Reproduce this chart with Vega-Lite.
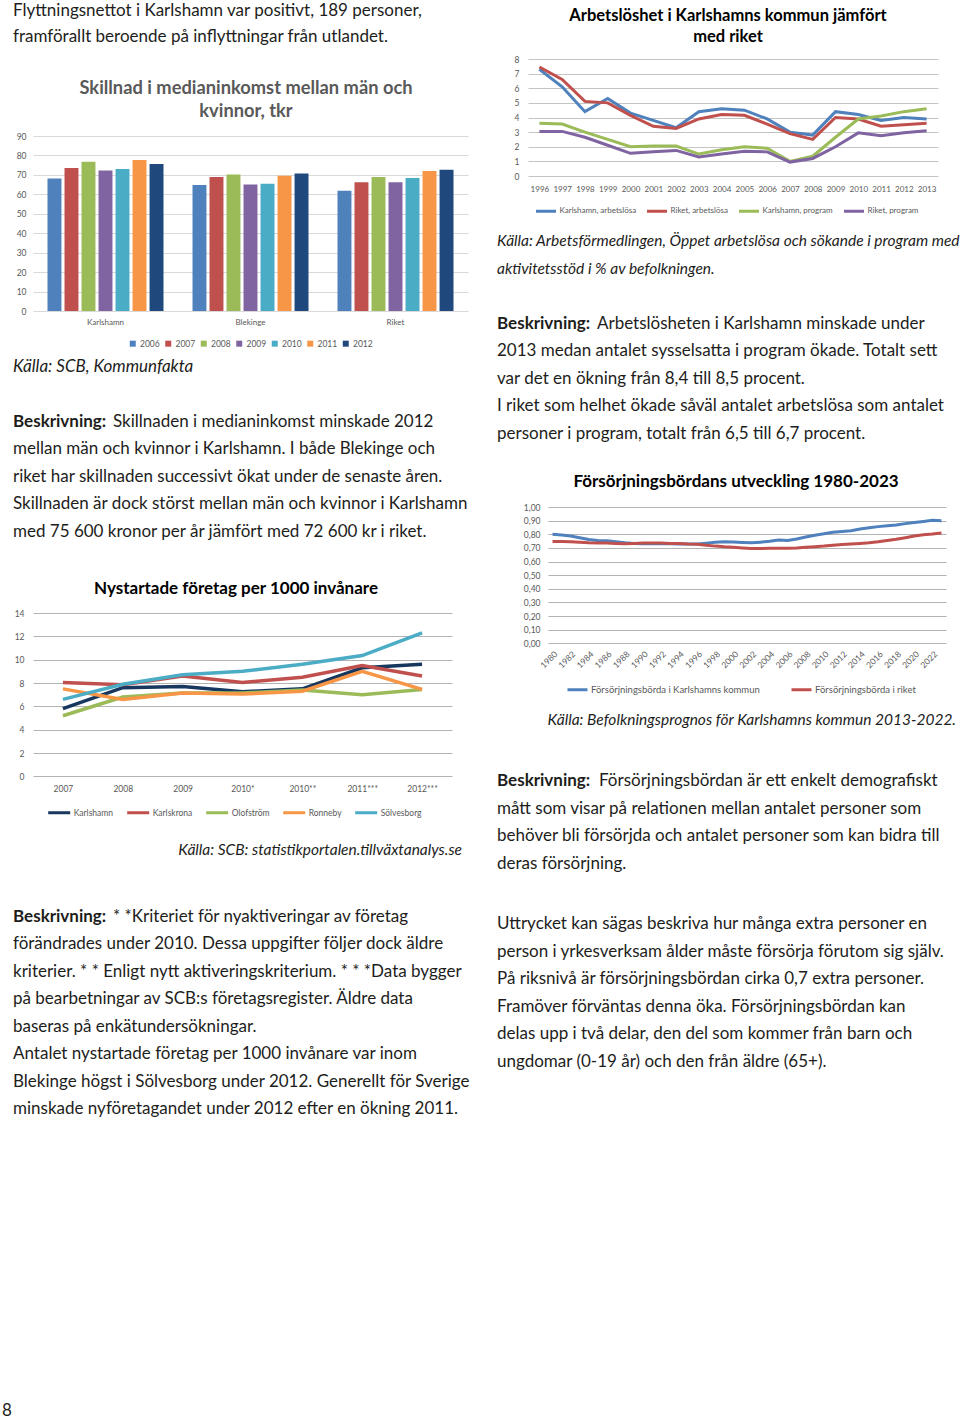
{
  "$schema": "https://vega.github.io/schema/vega-lite/v6.json",
  "background": "white",
  "padding": {"left": 2, "top": 0, "right": 0, "bottom": 0},
  "autosize": {"type": "pad"},
  "bounds": "flush",
  "spacing": 495,
  "resolve": {"scale": {"color": "independent"}, "legend": {"color": "independent"}},
  "config": {
    "view": {"stroke": null},
    "font": "Lato",
    "text": {"font": "Lato", "fontSize": 17, "baseline": "middle", "color": "#1d1d1b"},
    "axis": {"labelFont": "Lato", "labelFontSize": 8.5, "labelColor": "#595959", "domain": false, "ticks": false, "gridColor": "#c4c4c4", "gridWidth": 1},
    "legend": {"labelFont": "Lato", "labelFontSize": 8.5, "labelColor": "#595959", "orient": "none", "direction": "horizontal", "padding": 0, "title": null, "labelLimit": 400},
    "title": {"font": "Lato", "fontWeight": "bold", "anchor": "middle", "frame": "group"}
  },
  "hconcat": [
    {
      "bounds": "flush",
      "spacing": 0,
      "resolve": {"scale": {"color": "independent"}, "legend": {"color": "independent"}},
      "vconcat": [
        {
          "width": 435, "height": 135.7,
          "data": {"values": [
            {"line": 0, "text": "Flyttningsnettot i Karlshamn var positivt, 189 personer,"},
            {"line": 1, "text": "framförallt beroende på inflyttningar från utlandet."}
          ]},
          "mark": {"type": "text", "align": "left", "dx": -20},
          "encoding": {
            "x": {"value": 0},
            "y": {"field": "line", "type": "quantitative", "scale": {"domain": [-0.44, 4.84], "reverse": true, "zero": false, "nice": false}, "axis": null},
            "text": {"field": "text"}
          }
        },
        {
          "width": 435, "height": 175,
          "title": {"text": ["Skillnad i medianinkomst mellan män och", "kvinnor, tkr"], "fontSize": 18.3, "color": "#595959", "lineHeight": 22.7, "offset": 11, "dx": -4.5},
          "data": {"values": [
            {"region": "Karlshamn", "year": "2006", "value": 68.1},
            {"region": "Karlshamn", "year": "2007", "value": 73.6},
            {"region": "Karlshamn", "year": "2008", "value": 76.7},
            {"region": "Karlshamn", "year": "2009", "value": 72.2},
            {"region": "Karlshamn", "year": "2010", "value": 73.0},
            {"region": "Karlshamn", "year": "2011", "value": 77.7},
            {"region": "Karlshamn", "year": "2012", "value": 75.6},
            {"region": "Blekinge", "year": "2006", "value": 64.8},
            {"region": "Blekinge", "year": "2007", "value": 68.9},
            {"region": "Blekinge", "year": "2008", "value": 70.2},
            {"region": "Blekinge", "year": "2009", "value": 65.0},
            {"region": "Blekinge", "year": "2010", "value": 65.5},
            {"region": "Blekinge", "year": "2011", "value": 69.6},
            {"region": "Blekinge", "year": "2012", "value": 70.7},
            {"region": "Riket", "year": "2006", "value": 61.9},
            {"region": "Riket", "year": "2007", "value": 66.2},
            {"region": "Riket", "year": "2008", "value": 68.9},
            {"region": "Riket", "year": "2009", "value": 66.2},
            {"region": "Riket", "year": "2010", "value": 68.4},
            {"region": "Riket", "year": "2011", "value": 72.0},
            {"region": "Riket", "year": "2012", "value": 72.6}
          ]},
          "mark": {"type": "bar"},
          "encoding": {
            "x": {"field": "region", "type": "nominal", "sort": ["Karlshamn", "Blekinge", "Riket"], "scale": {"paddingInner": 0.2, "paddingOuter": 0.1}, "axis": {"title": null, "labelAngle": 0, "labelPadding": 7.5, "labelFontSize": 8}},
            "xOffset": {"field": "year", "type": "nominal", "scale": {"paddingInner": 0.18, "paddingOuter": 0}},
            "y": {"field": "value", "type": "quantitative", "scale": {"domain": [0, 90], "nice": false}, "axis": {"title": null, "values": [0, 10, 20, 30, 40, 50, 60, 70, 80, 90], "labelPadding": 7, "gridColor": "#d9d9d9"}},
            "color": {"field": "year", "type": "nominal", "scale": {"domain": ["2006", "2007", "2008", "2009", "2010", "2011", "2012"], "range": ["#4F81BD", "#C0504D", "#9BBB59", "#8064A2", "#4BACC6", "#F79646", "#1F497D"]}, "legend": {"legendX": 95.5, "legendY": 203.3, "symbolType": "square", "symbolSize": 36, "columnPadding": 3.5, "labelOffset": 3}}
          }
        },
        {
          "width": 435, "height": 301.6,
          "encoding": {"x": {"value": 0}, "text": {"field": "text"}},
          "layer": [
            {
              "data": {"values": [{"line": 0, "text": "Källa: SCB, Kommunfakta"}]},
              "mark": {"type": "text", "align": "left", "dx": -20, "fontStyle": "italic"},
              "encoding": {"y": {"field": "line", "type": "quantitative", "scale": {"domain": [-2.033, 8.934], "reverse": true, "zero": false, "nice": false}, "axis": null}}
            },
            {
              "data": {"values": [{"line": 2, "text": "Beskrivning:"}]},
              "mark": {"type": "text", "align": "left", "dx": -20, "fontWeight": "bold"},
              "encoding": {"y": {"field": "line", "type": "quantitative", "scale": {"domain": [-2.033, 8.934], "reverse": true, "zero": false, "nice": false}, "axis": null}}
            },
            {
              "data": {"values": [{"line": 2, "text": "Skillnaden i medianinkomst minskade 2012"}]},
              "mark": {"type": "text", "align": "left", "dx": 80},
              "encoding": {"y": {"field": "line", "type": "quantitative", "scale": {"domain": [-2.033, 8.934], "reverse": true, "zero": false, "nice": false}, "axis": null}}
            },
            {
              "data": {"values": [
                {"line": 3, "text": "mellan män och kvinnor i Karlshamn. I både Blekinge och"},
                {"line": 4, "text": "riket har skillnaden successivt ökat under de senaste åren."},
                {"line": 5, "text": "Skillnaden är dock störst mellan män och kvinnor i Karlshamn"},
                {"line": 6, "text": "med 75 600 kronor per år jämfört med 72 600 kr i riket."}
              ]},
              "mark": {"type": "text", "align": "left", "dx": -20},
              "encoding": {"y": {"field": "line", "type": "quantitative", "scale": {"domain": [-2.033, 8.934], "reverse": true, "zero": false, "nice": false}, "axis": null}}
            }
          ],
          "resolve": {"scale": {"y": "independent"}}
        },
        {
          "width": 419, "height": 163.4,
          "title": {"text": "Nystartade företag per 1000 invånare", "fontSize": 17, "color": "#000000", "offset": 11, "dx": -6.5},
          "data": {"values": [
            {"kommun": "Karlshamn", "period": "2007", "value": 5.8},
            {"kommun": "Karlshamn", "period": "2008", "value": 7.6},
            {"kommun": "Karlshamn", "period": "2009", "value": 7.7},
            {"kommun": "Karlshamn", "period": "2010*", "value": 7.25},
            {"kommun": "Karlshamn", "period": "2010**", "value": 7.5},
            {"kommun": "Karlshamn", "period": "2011***", "value": 9.3},
            {"kommun": "Karlshamn", "period": "2012***", "value": 9.6},
            {"kommun": "Karlskrona", "period": "2007", "value": 8.05},
            {"kommun": "Karlskrona", "period": "2008", "value": 7.85},
            {"kommun": "Karlskrona", "period": "2009", "value": 8.6},
            {"kommun": "Karlskrona", "period": "2010*", "value": 8.05},
            {"kommun": "Karlskrona", "period": "2010**", "value": 8.5},
            {"kommun": "Karlskrona", "period": "2011***", "value": 9.5},
            {"kommun": "Karlskrona", "period": "2012***", "value": 8.6},
            {"kommun": "Olofström", "period": "2007", "value": 5.2},
            {"kommun": "Olofström", "period": "2008", "value": 6.8},
            {"kommun": "Olofström", "period": "2009", "value": 7.15},
            {"kommun": "Olofström", "period": "2010*", "value": 7.15},
            {"kommun": "Olofström", "period": "2010**", "value": 7.4},
            {"kommun": "Olofström", "period": "2011***", "value": 7.0},
            {"kommun": "Olofström", "period": "2012***", "value": 7.45},
            {"kommun": "Ronneby", "period": "2007", "value": 7.5},
            {"kommun": "Ronneby", "period": "2008", "value": 6.6},
            {"kommun": "Ronneby", "period": "2009", "value": 7.15},
            {"kommun": "Ronneby", "period": "2010*", "value": 7.05},
            {"kommun": "Ronneby", "period": "2010**", "value": 7.3},
            {"kommun": "Ronneby", "period": "2011***", "value": 9.0},
            {"kommun": "Ronneby", "period": "2012***", "value": 7.45},
            {"kommun": "Sölvesborg", "period": "2007", "value": 6.6},
            {"kommun": "Sölvesborg", "period": "2008", "value": 7.9},
            {"kommun": "Sölvesborg", "period": "2009", "value": 8.7},
            {"kommun": "Sölvesborg", "period": "2010*", "value": 9.0},
            {"kommun": "Sölvesborg", "period": "2010**", "value": 9.6},
            {"kommun": "Sölvesborg", "period": "2011***", "value": 10.35},
            {"kommun": "Sölvesborg", "period": "2012***", "value": 12.3}
          ]},
          "mark": {"type": "line", "strokeWidth": 3.5},
          "encoding": {
            "x": {"field": "period", "type": "ordinal", "sort": ["2007", "2008", "2009", "2010*", "2010**", "2011***", "2012***"], "scale": {"type": "point", "padding": 0.5}, "axis": {"title": null, "labelAngle": 0, "labelPadding": 8, "labelOverlap": false}},
            "y": {"field": "value", "type": "quantitative", "scale": {"domain": [0, 14], "nice": false}, "axis": {"title": null, "values": [0, 2, 4, 6, 8, 10, 12, 14], "labelPadding": 9, "gridColor": "#b3b3b3"}},
            "color": {"field": "kommun", "type": "nominal", "scale": {"domain": ["Karlshamn", "Karlskrona", "Olofström", "Ronneby", "Sölvesborg"], "range": ["#17375E", "#C0504D", "#9BBB59", "#F79646", "#4BACC6"]}, "legend": {"legendX": 13.7, "legendY": 187, "symbolType": "stroke", "symbolSize": 484, "symbolStrokeWidth": 3, "columnPadding": 7, "labelOffset": 2}}
          }
        },
        {
          "width": 429, "height": 640,
          "encoding": {"x": {"value": 0}, "text": {"field": "text"}},
          "layer": [
            {
              "data": {"values": [{"line": 0, "text": "Källa: SCB: statistikportalen.tillväxtanalys.se"}]},
              "mark": {"type": "text", "align": "right", "fontStyle": "italic", "fontSize": 15.5},
              "encoding": {"x": {"value": "width"}, "y": {"field": "line", "type": "quantitative", "scale": {"domain": [-2.662, 20.611], "reverse": true, "zero": false, "nice": false}, "axis": null}}
            },
            {
              "data": {"values": [{"line": 0, "text": "Beskrivning:"}]},
              "mark": {"type": "text", "align": "left", "dx": -20, "fontWeight": "bold"},
              "encoding": {"y": {"field": "line", "type": "quantitative", "scale": {"domain": [-5.087, 18.186], "reverse": true, "zero": false, "nice": false}, "axis": null}}
            },
            {
              "data": {"values": [{"line": 0, "text": "* *Kriteriet för nyaktiveringar av företag"}]},
              "mark": {"type": "text", "align": "left", "dx": 80},
              "encoding": {"y": {"field": "line", "type": "quantitative", "scale": {"domain": [-5.087, 18.186], "reverse": true, "zero": false, "nice": false}, "axis": null}}
            },
            {
              "data": {"values": [
                {"line": 1, "text": "förändrades under 2010. Dessa uppgifter följer dock äldre"},
                {"line": 2, "text": "kriterier. * * Enligt nytt aktiveringskriterium. * * *Data bygger"},
                {"line": 3, "text": "på bearbetningar av SCB:s företagsregister. Äldre data"},
                {"line": 4, "text": "baseras på enkätundersökningar."},
                {"line": 5, "text": "Antalet nystartade företag per 1000 invånare var inom"},
                {"line": 6, "text": "Blekinge högst i Sölvesborg under 2012. Generellt för Sverige"},
                {"line": 7, "text": "minskade nyföretagandet under 2012 efter en ökning 2011."}
              ]},
              "mark": {"type": "text", "align": "left", "dx": -20},
              "encoding": {"y": {"field": "line", "type": "quantitative", "scale": {"domain": [-5.087, 18.186], "reverse": true, "zero": false, "nice": false}, "axis": null}}
            },
            {
              "data": {"values": [{"line": 0, "text": "8"}]},
              "mark": {"type": "text", "align": "left", "dx": -31},
              "encoding": {"y": {"field": "line", "type": "quantitative", "scale": {"domain": [-23.065, 0.208], "reverse": true, "zero": false, "nice": false}, "axis": null}}
            }
          ],
          "resolve": {"scale": {"y": "independent"}}
        }
      ]
    },
    {
      "bounds": "flush",
      "spacing": 0,
      "resolve": {"scale": {"color": "independent"}, "legend": {"color": "independent"}},
      "vconcat": [
        {
          "width": 410, "height": 58.7,
          "data": {"values": [
            {"line": 0, "text": "Arbetslöshet i Karlshamns kommun jämfört"},
            {"line": 1, "text": "med riket"}
          ]},
          "mark": {"type": "text", "align": "center", "dx": -5, "fontWeight": "bold", "fontSize": 16.5, "color": "#000000"},
          "encoding": {
            "y": {"field": "line", "type": "quantitative", "scale": {"domain": [-0.771, 2.024], "reverse": true, "zero": false, "nice": false}, "axis": null},
            "text": {"field": "text"}
          }
        },
        {
          "width": 410, "height": 117,
          "data": {"values": [
            {"year": 1996, "serie": "Karlshamn, arbetslösa", "value": 7.3},
            {"year": 1997, "serie": "Karlshamn, arbetslösa", "value": 6.1},
            {"year": 1998, "serie": "Karlshamn, arbetslösa", "value": 4.4},
            {"year": 1999, "serie": "Karlshamn, arbetslösa", "value": 5.3},
            {"year": 2000, "serie": "Karlshamn, arbetslösa", "value": 4.3},
            {"year": 2001, "serie": "Karlshamn, arbetslösa", "value": 3.8},
            {"year": 2002, "serie": "Karlshamn, arbetslösa", "value": 3.3},
            {"year": 2003, "serie": "Karlshamn, arbetslösa", "value": 4.4},
            {"year": 2004, "serie": "Karlshamn, arbetslösa", "value": 4.6},
            {"year": 2005, "serie": "Karlshamn, arbetslösa", "value": 4.5},
            {"year": 2006, "serie": "Karlshamn, arbetslösa", "value": 3.9},
            {"year": 2007, "serie": "Karlshamn, arbetslösa", "value": 3.0},
            {"year": 2008, "serie": "Karlshamn, arbetslösa", "value": 2.8},
            {"year": 2009, "serie": "Karlshamn, arbetslösa", "value": 4.4},
            {"year": 2010, "serie": "Karlshamn, arbetslösa", "value": 4.2},
            {"year": 2011, "serie": "Karlshamn, arbetslösa", "value": 3.8},
            {"year": 2012, "serie": "Karlshamn, arbetslösa", "value": 4.0},
            {"year": 2013, "serie": "Karlshamn, arbetslösa", "value": 3.9},
            {"year": 1996, "serie": "Riket, arbetslösa", "value": 7.45},
            {"year": 1997, "serie": "Riket, arbetslösa", "value": 6.6},
            {"year": 1998, "serie": "Riket, arbetslösa", "value": 5.1},
            {"year": 1999, "serie": "Riket, arbetslösa", "value": 5.0},
            {"year": 2000, "serie": "Riket, arbetslösa", "value": 4.15},
            {"year": 2001, "serie": "Riket, arbetslösa", "value": 3.4},
            {"year": 2002, "serie": "Riket, arbetslösa", "value": 3.25},
            {"year": 2003, "serie": "Riket, arbetslösa", "value": 3.9},
            {"year": 2004, "serie": "Riket, arbetslösa", "value": 4.2},
            {"year": 2005, "serie": "Riket, arbetslösa", "value": 4.15},
            {"year": 2006, "serie": "Riket, arbetslösa", "value": 3.55},
            {"year": 2007, "serie": "Riket, arbetslösa", "value": 2.9},
            {"year": 2008, "serie": "Riket, arbetslösa", "value": 2.5},
            {"year": 2009, "serie": "Riket, arbetslösa", "value": 4.0},
            {"year": 2010, "serie": "Riket, arbetslösa", "value": 3.9},
            {"year": 2011, "serie": "Riket, arbetslösa", "value": 3.4},
            {"year": 2012, "serie": "Riket, arbetslösa", "value": 3.5},
            {"year": 2013, "serie": "Riket, arbetslösa", "value": 3.6},
            {"year": 1996, "serie": "Karlshamn, program", "value": 3.6},
            {"year": 1997, "serie": "Karlshamn, program", "value": 3.55},
            {"year": 1998, "serie": "Karlshamn, program", "value": 3.0},
            {"year": 1999, "serie": "Karlshamn, program", "value": 2.5},
            {"year": 2000, "serie": "Karlshamn, program", "value": 2.0},
            {"year": 2001, "serie": "Karlshamn, program", "value": 2.05},
            {"year": 2002, "serie": "Karlshamn, program", "value": 2.05},
            {"year": 2003, "serie": "Karlshamn, program", "value": 1.5},
            {"year": 2004, "serie": "Karlshamn, program", "value": 1.8},
            {"year": 2005, "serie": "Karlshamn, program", "value": 2.0},
            {"year": 2006, "serie": "Karlshamn, program", "value": 1.9},
            {"year": 2007, "serie": "Karlshamn, program", "value": 1.0},
            {"year": 2008, "serie": "Karlshamn, program", "value": 1.35},
            {"year": 2009, "serie": "Karlshamn, program", "value": 2.65},
            {"year": 2010, "serie": "Karlshamn, program", "value": 3.9},
            {"year": 2011, "serie": "Karlshamn, program", "value": 4.1},
            {"year": 2012, "serie": "Karlshamn, program", "value": 4.4},
            {"year": 2013, "serie": "Karlshamn, program", "value": 4.6},
            {"year": 1996, "serie": "Riket, program", "value": 3.05},
            {"year": 1997, "serie": "Riket, program", "value": 3.05},
            {"year": 1998, "serie": "Riket, program", "value": 2.65},
            {"year": 1999, "serie": "Riket, program", "value": 2.1},
            {"year": 2000, "serie": "Riket, program", "value": 1.55},
            {"year": 2001, "serie": "Riket, program", "value": 1.65},
            {"year": 2002, "serie": "Riket, program", "value": 1.75},
            {"year": 2003, "serie": "Riket, program", "value": 1.3},
            {"year": 2004, "serie": "Riket, program", "value": 1.5},
            {"year": 2005, "serie": "Riket, program", "value": 1.7},
            {"year": 2006, "serie": "Riket, program", "value": 1.65},
            {"year": 2007, "serie": "Riket, program", "value": 0.95},
            {"year": 2008, "serie": "Riket, program", "value": 1.2},
            {"year": 2009, "serie": "Riket, program", "value": 2.0},
            {"year": 2010, "serie": "Riket, program", "value": 2.95},
            {"year": 2011, "serie": "Riket, program", "value": 2.75},
            {"year": 2012, "serie": "Riket, program", "value": 2.95},
            {"year": 2013, "serie": "Riket, program", "value": 3.1}
          ]},
          "mark": {"type": "line", "strokeWidth": 3},
          "encoding": {
            "x": {"field": "year", "type": "ordinal", "scale": {"type": "point", "padding": 0.5}, "axis": {"title": null, "labelAngle": 0, "labelPadding": 9, "labelOverlap": false, "labelFontSize": 8}},
            "y": {"field": "value", "type": "quantitative", "scale": {"domain": [0, 8], "nice": false}, "axis": {"title": null, "values": [0, 1, 2, 3, 4, 5, 6, 7, 8], "labelPadding": 9}},
            "color": {"field": "serie", "type": "nominal", "scale": {"domain": ["Karlshamn, arbetslösa", "Riket, arbetslösa", "Karlshamn, program", "Riket, program"], "range": ["#4F81BD", "#C0504D", "#9BBB59", "#8064A2"]}, "legend": {"legendX": 6.5, "legendY": 140.5, "symbolType": "stroke", "symbolSize": 400, "symbolStrokeWidth": 3, "columnPadding": 4, "labelOffset": 2, "labelFontSize": 8}}
          }
        },
        {
          "width": 410, "height": 330.3,
          "encoding": {"x": {"value": 0}, "text": {"field": "text"}},
          "layer": [
            {
              "data": {"values": [
                {"line": 0, "text": "Källa: Arbetsförmedlingen, Öppet arbetslösa och sökande i program med"},
                {"line": 1, "text": "aktivitetsstöd i % av befolkningen."}
              ]},
              "mark": {"type": "text", "align": "left", "dx": -31, "fontStyle": "italic", "fontSize": 15.5},
              "encoding": {"y": {"field": "line", "type": "quantitative", "scale": {"domain": [-2.375, 9.636], "reverse": true, "zero": false, "nice": false}, "axis": null}}
            },
            {
              "data": {"values": [{"line": 0, "text": "Beskrivning:"}]},
              "mark": {"type": "text", "align": "left", "dx": -31, "fontWeight": "bold"},
              "encoding": {"y": {"field": "line", "type": "quantitative", "scale": {"domain": [-5.367, 6.644], "reverse": true, "zero": false, "nice": false}, "axis": null}}
            },
            {
              "data": {"values": [{"line": 0, "text": "Arbetslösheten i Karlshamn minskade under"}]},
              "mark": {"type": "text", "align": "left", "dx": 69},
              "encoding": {"y": {"field": "line", "type": "quantitative", "scale": {"domain": [-5.367, 6.644], "reverse": true, "zero": false, "nice": false}, "axis": null}}
            },
            {
              "data": {"values": [
                {"line": 1, "text": "2013 medan antalet sysselsatta i program ökade. Totalt sett"},
                {"line": 2, "text": "var det en ökning från 8,4 till 8,5 procent."},
                {"line": 3, "text": "I riket som helhet ökade såväl antalet arbetslösa som antalet"},
                {"line": 4, "text": "personer i program, totalt från 6,5 till 6,7 procent."}
              ]},
              "mark": {"type": "text", "align": "left", "dx": -31},
              "encoding": {"y": {"field": "line", "type": "quantitative", "scale": {"domain": [-5.367, 6.644], "reverse": true, "zero": false, "nice": false}, "axis": null}}
            }
          ],
          "resolve": {"scale": {"y": "independent"}}
        },
        {
          "bounds": "flush",
          "spacing": 19,
          "resolve": {"scale": {"color": "independent"}, "legend": {"color": "independent"}},
          "hconcat": [
            {
              "width": 1, "height": 1,
              "data": {"values": []},
              "mark": {"type": "text"},
              "encoding": {}
            },
            {
              "width": 398, "height": 136.3,
              "title": {"text": "Försörjningsbördans utveckling 1980-2023", "fontSize": 17, "color": "#000000", "offset": 12, "dx": -11},
              "data": {"values": [
                {"year": 1980, "serie": "Försörjningsbörda i Karlshamns kommun", "value": 0.800},
                {"year": 1981, "serie": "Försörjningsbörda i Karlshamns kommun", "value": 0.795},
                {"year": 1982, "serie": "Försörjningsbörda i Karlshamns kommun", "value": 0.787},
                {"year": 1983, "serie": "Försörjningsbörda i Karlshamns kommun", "value": 0.775},
                {"year": 1984, "serie": "Försörjningsbörda i Karlshamns kommun", "value": 0.762},
                {"year": 1985, "serie": "Försörjningsbörda i Karlshamns kommun", "value": 0.755},
                {"year": 1986, "serie": "Försörjningsbörda i Karlshamns kommun", "value": 0.753},
                {"year": 1987, "serie": "Försörjningsbörda i Karlshamns kommun", "value": 0.745},
                {"year": 1988, "serie": "Försörjningsbörda i Karlshamns kommun", "value": 0.738},
                {"year": 1989, "serie": "Försörjningsbörda i Karlshamns kommun", "value": 0.733},
                {"year": 1990, "serie": "Försörjningsbörda i Karlshamns kommun", "value": 0.730},
                {"year": 1991, "serie": "Försörjningsbörda i Karlshamns kommun", "value": 0.730},
                {"year": 1992, "serie": "Försörjningsbörda i Karlshamns kommun", "value": 0.730},
                {"year": 1993, "serie": "Försörjningsbörda i Karlshamns kommun", "value": 0.730},
                {"year": 1994, "serie": "Försörjningsbörda i Karlshamns kommun", "value": 0.728},
                {"year": 1995, "serie": "Försörjningsbörda i Karlshamns kommun", "value": 0.728},
                {"year": 1996, "serie": "Försörjningsbörda i Karlshamns kommun", "value": 0.728},
                {"year": 1997, "serie": "Försörjningsbörda i Karlshamns kommun", "value": 0.735},
                {"year": 1998, "serie": "Försörjningsbörda i Karlshamns kommun", "value": 0.742},
                {"year": 1999, "serie": "Försörjningsbörda i Karlshamns kommun", "value": 0.745},
                {"year": 2000, "serie": "Försörjningsbörda i Karlshamns kommun", "value": 0.743},
                {"year": 2001, "serie": "Försörjningsbörda i Karlshamns kommun", "value": 0.740},
                {"year": 2002, "serie": "Försörjningsbörda i Karlshamns kommun", "value": 0.737},
                {"year": 2003, "serie": "Försörjningsbörda i Karlshamns kommun", "value": 0.742},
                {"year": 2004, "serie": "Försörjningsbörda i Karlshamns kommun", "value": 0.748},
                {"year": 2005, "serie": "Försörjningsbörda i Karlshamns kommun", "value": 0.757},
                {"year": 2006, "serie": "Försörjningsbörda i Karlshamns kommun", "value": 0.754},
                {"year": 2007, "serie": "Försörjningsbörda i Karlshamns kommun", "value": 0.765},
                {"year": 2008, "serie": "Försörjningsbörda i Karlshamns kommun", "value": 0.780},
                {"year": 2009, "serie": "Försörjningsbörda i Karlshamns kommun", "value": 0.793},
                {"year": 2010, "serie": "Försörjningsbörda i Karlshamns kommun", "value": 0.803},
                {"year": 2011, "serie": "Försörjningsbörda i Karlshamns kommun", "value": 0.815},
                {"year": 2012, "serie": "Försörjningsbörda i Karlshamns kommun", "value": 0.820},
                {"year": 2013, "serie": "Försörjningsbörda i Karlshamns kommun", "value": 0.826},
                {"year": 2014, "serie": "Försörjningsbörda i Karlshamns kommun", "value": 0.838},
                {"year": 2015, "serie": "Försörjningsbörda i Karlshamns kommun", "value": 0.848},
                {"year": 2016, "serie": "Försörjningsbörda i Karlshamns kommun", "value": 0.856},
                {"year": 2017, "serie": "Försörjningsbörda i Karlshamns kommun", "value": 0.862},
                {"year": 2018, "serie": "Försörjningsbörda i Karlshamns kommun", "value": 0.868},
                {"year": 2019, "serie": "Försörjningsbörda i Karlshamns kommun", "value": 0.878},
                {"year": 2020, "serie": "Försörjningsbörda i Karlshamns kommun", "value": 0.886},
                {"year": 2021, "serie": "Försörjningsbörda i Karlshamns kommun", "value": 0.894},
                {"year": 2022, "serie": "Försörjningsbörda i Karlshamns kommun", "value": 0.902},
                {"year": 2023, "serie": "Försörjningsbörda i Karlshamns kommun", "value": 0.900},
                {"year": 1980, "serie": "Försörjningsbörda i riket", "value": 0.747},
                {"year": 1981, "serie": "Försörjningsbörda i riket", "value": 0.747},
                {"year": 1982, "serie": "Försörjningsbörda i riket", "value": 0.745},
                {"year": 1983, "serie": "Försörjningsbörda i riket", "value": 0.742},
                {"year": 1984, "serie": "Försörjningsbörda i riket", "value": 0.737},
                {"year": 1985, "serie": "Försörjningsbörda i riket", "value": 0.735},
                {"year": 1986, "serie": "Försörjningsbörda i riket", "value": 0.735},
                {"year": 1987, "serie": "Försörjningsbörda i riket", "value": 0.732},
                {"year": 1988, "serie": "Försörjningsbörda i riket", "value": 0.730},
                {"year": 1989, "serie": "Försörjningsbörda i riket", "value": 0.732},
                {"year": 1990, "serie": "Försörjningsbörda i riket", "value": 0.735},
                {"year": 1991, "serie": "Försörjningsbörda i riket", "value": 0.735},
                {"year": 1992, "serie": "Försörjningsbörda i riket", "value": 0.735},
                {"year": 1993, "serie": "Försörjningsbörda i riket", "value": 0.733},
                {"year": 1994, "serie": "Försörjningsbörda i riket", "value": 0.732},
                {"year": 1995, "serie": "Försörjningsbörda i riket", "value": 0.728},
                {"year": 1996, "serie": "Försörjningsbörda i riket", "value": 0.726},
                {"year": 1997, "serie": "Försörjningsbörda i riket", "value": 0.720},
                {"year": 1998, "serie": "Försörjningsbörda i riket", "value": 0.713},
                {"year": 1999, "serie": "Försörjningsbörda i riket", "value": 0.708},
                {"year": 2000, "serie": "Försörjningsbörda i riket", "value": 0.705},
                {"year": 2001, "serie": "Försörjningsbörda i riket", "value": 0.700},
                {"year": 2002, "serie": "Försörjningsbörda i riket", "value": 0.695},
                {"year": 2003, "serie": "Försörjningsbörda i riket", "value": 0.696},
                {"year": 2004, "serie": "Försörjningsbörda i riket", "value": 0.697},
                {"year": 2005, "serie": "Försörjningsbörda i riket", "value": 0.697},
                {"year": 2006, "serie": "Försörjningsbörda i riket", "value": 0.698},
                {"year": 2007, "serie": "Försörjningsbörda i riket", "value": 0.700},
                {"year": 2008, "serie": "Försörjningsbörda i riket", "value": 0.705},
                {"year": 2009, "serie": "Försörjningsbörda i riket", "value": 0.709},
                {"year": 2010, "serie": "Försörjningsbörda i riket", "value": 0.713},
                {"year": 2011, "serie": "Försörjningsbörda i riket", "value": 0.719},
                {"year": 2012, "serie": "Försörjningsbörda i riket", "value": 0.724},
                {"year": 2013, "serie": "Försörjningsbörda i riket", "value": 0.729},
                {"year": 2014, "serie": "Försörjningsbörda i riket", "value": 0.733},
                {"year": 2015, "serie": "Försörjningsbörda i riket", "value": 0.738},
                {"year": 2016, "serie": "Försörjningsbörda i riket", "value": 0.745},
                {"year": 2017, "serie": "Försörjningsbörda i riket", "value": 0.755},
                {"year": 2018, "serie": "Försörjningsbörda i riket", "value": 0.763},
                {"year": 2019, "serie": "Försörjningsbörda i riket", "value": 0.775},
                {"year": 2020, "serie": "Försörjningsbörda i riket", "value": 0.787},
                {"year": 2021, "serie": "Försörjningsbörda i riket", "value": 0.797},
                {"year": 2022, "serie": "Försörjningsbörda i riket", "value": 0.802},
                {"year": 2023, "serie": "Försörjningsbörda i riket", "value": 0.809}
              ]},
              "mark": {"type": "line", "strokeWidth": 3},
              "encoding": {
                "x": {"field": "year", "type": "ordinal", "scale": {"type": "point", "padding": 0.5}, "axis": {"title": null, "labelAngle": -45, "labelPadding": 6, "labelOverlap": false, "values": [1980, 1982, 1984, 1986, 1988, 1990, 1992, 1994, 1996, 1998, 2000, 2002, 2004, 2006, 2008, 2010, 2012, 2014, 2016, 2018, 2020, 2022]}},
                "y": {"field": "value", "type": "quantitative", "scale": {"domain": [0, 1], "nice": false}, "axis": {"title": null, "values": [0, 0.1, 0.2, 0.3, 0.4, 0.5, 0.6, 0.7, 0.8, 0.9, 1], "labelExpr": "replace(format(datum.value, '.2f'), '.', ',')", "labelPadding": 8, "gridColor": "#b3b3b3"}},
                "color": {"field": "serie", "type": "nominal", "scale": {"domain": ["Försörjningsbörda i Karlshamns kommun", "Försörjningsbörda i riket"], "range": ["#4F81BD", "#C0504D"]}, "legend": {"legendX": 18, "legendY": 171, "symbolType": "stroke", "symbolSize": 400, "symbolStrokeWidth": 3, "columnPadding": 25, "labelOffset": 2, "labelFontSize": 9.5, "labelLimit": 400}}
              }
            }
          ]
        },
        {
          "width": 428, "height": 596.3,
          "encoding": {"x": {"value": 0}, "text": {"field": "text"}},
          "layer": [
            {
              "data": {"values": [{"line": 0, "text": "Källa: Befolkningsprognos för Karlshamns kommun 2013-2022."}]},
              "mark": {"type": "text", "align": "right", "fontStyle": "italic", "fontSize": 15.5},
              "encoding": {"x": {"value": "width"}, "y": {"field": "line", "type": "quantitative", "scale": {"domain": [-7.745, 13.939], "reverse": true, "zero": false, "nice": false}, "axis": null}}
            },
            {
              "data": {"values": [{"line": 0, "text": "Beskrivning:"}]},
              "mark": {"type": "text", "align": "left", "dx": -31, "fontWeight": "bold"},
              "encoding": {"y": {"field": "line", "type": "quantitative", "scale": {"domain": [-9.964, 11.72], "reverse": true, "zero": false, "nice": false}, "axis": null}}
            },
            {
              "data": {"values": [{"line": 0, "text": "Försörjningsbördan är ett enkelt demografiskt"}]},
              "mark": {"type": "text", "align": "left", "dx": 71},
              "encoding": {"y": {"field": "line", "type": "quantitative", "scale": {"domain": [-9.964, 11.72], "reverse": true, "zero": false, "nice": false}, "axis": null}}
            },
            {
              "data": {"values": [
                {"line": 1, "text": "mått som visar på relationen mellan antalet personer som"},
                {"line": 2, "text": "behöver bli försörjda och antalet personer som kan bidra till"},
                {"line": 3, "text": "deras försörjning."}
              ]},
              "mark": {"type": "text", "align": "left", "dx": -31},
              "encoding": {"y": {"field": "line", "type": "quantitative", "scale": {"domain": [-9.964, 11.72], "reverse": true, "zero": false, "nice": false}, "axis": null}}
            },
            {
              "data": {"values": [
                {"line": 0, "text": "Uttrycket kan sägas beskriva hur många extra personer en"},
                {"line": 1, "text": "person i yrkesverksam ålder måste försörja förutom sig själv."},
                {"line": 2, "text": "På riksnivå är försörjningsbördan cirka 0,7 extra personer."},
                {"line": 3, "text": "Framöver förväntas denna öka. Försörjningsbördan kan"},
                {"line": 4, "text": "delas upp i två delar, den del som kommer från barn och"},
                {"line": 5, "text": "ungdomar (0-19 år) och den från äldre (65+)."}
              ]},
              "mark": {"type": "text", "align": "left", "dx": -31},
              "encoding": {"y": {"field": "line", "type": "quantitative", "scale": {"domain": [-15.164, 6.52], "reverse": true, "zero": false, "nice": false}, "axis": null}}
            }
          ],
          "resolve": {"scale": {"y": "independent"}}
        }
      ]
    }
  ]
}
